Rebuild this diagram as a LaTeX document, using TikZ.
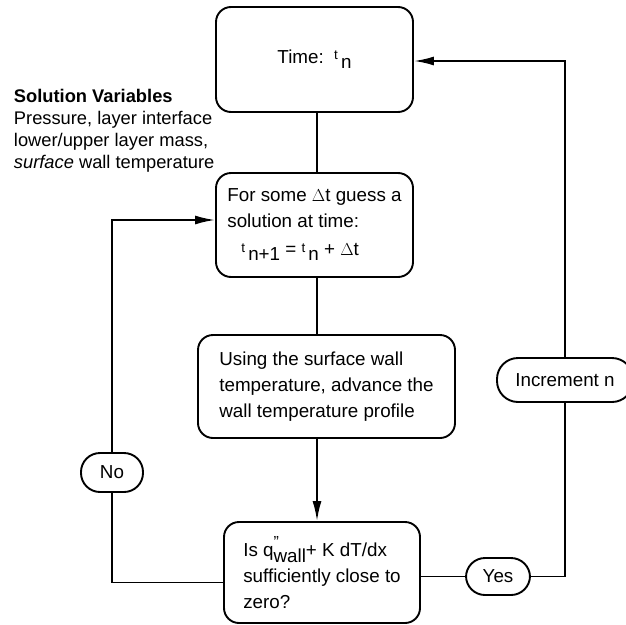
\documentclass[tikz,border=0pt]{standalone}
\usepackage{fontspec}
\setmainfont{Liberation Sans}
\usetikzlibrary{positioning,arrows.meta,calc}
\tikzset{>={Latex[length=20pt,width=9pt]}}
\newcommand{\tsub}[1]{{\fontsize{13.5}{13.5}\selectfont\raisebox{0.55ex}{t}}\,\raisebox{-0.5ex}{#1}}

\begin{document}
\begin{tikzpicture}[x=1pt, y=-1pt, line width=1.9pt,
    every node/.style={font=\fontsize{18.8}{26}\selectfont},
    stage/.style={draw, rounded corners=15pt, align=left, inner sep=4pt},
    pill/.style={draw, rounded corners=19pt, inner sep=0pt, minimum height=39pt}]
    \useasboundingbox (0,0) rectangle (626,624);
    \node[stage, minimum width=197pt, minimum height=105pt, align=center] (time) at (314.5,59.5) {Time:\ \ \tsub{n}};
    \node[stage, minimum width=197pt, minimum height=104pt] (guess) at (314.5,225)
        {For some $\Delta$t guess a\\ solution at time:\\[2pt] \hspace*{14pt}\tsub{n+1} = \tsub{n} + $\Delta$t};
    \node[stage, minimum width=257pt, minimum height=103pt] (adv) at (326.5,386.5)
        {Using the surface wall\\ temperature, advance the\\ wall temperature profile};
    \node[stage, minimum width=196pt, minimum height=101pt] (test) at (322,572.5)
        {Is q\raisebox{-0.55ex}{\rlap{\raisebox{1.5ex}{\fontsize{16}{16}\selectfont ''}}wall}+ K dT/dx\\ sufficiently close to\\ zero?};
    \node[pill, minimum width=62pt] (no) at (112,472.5) {No};
    \node[pill, minimum width=64pt, minimum height=37pt] (yes) at (498,576.5) {Yes};
    \node[pill, minimum width=136pt, minimum height=44pt, rounded corners=21pt] (incr) at (565,380) {Increment n};
    \node[align=left, anchor=north west, inner sep=0pt, font=\fontsize{18.3}{22}\selectfont] (vars) at (13,88)
        {\textbf{Solution Variables}\\ Pressure, layer interface\\ lower/upper layer mass,\\ \textit{surface} wall temperature};
    \coordinate (spine) at (317,0);
    % main column
    \draw (spine |- time.south) -- (spine |- guess.north);
    \draw (spine |- guess.south) -- (spine |- adv.north);
    \draw[->] (spine |- adv.south) -- (spine |- test.north);
    % not converged
    \draw ([yshift=-10pt]test.west) -| (no);
    \draw[->] (no) |- ([yshift=5pt]guess.west);
    % converged
    \draw (test.east |- yes) -- (yes);
    \draw (yes) -| (incr);
    \draw[->] (incr) |- ([yshift=-1.5pt]time.east);
\end{tikzpicture}
\end{document}
